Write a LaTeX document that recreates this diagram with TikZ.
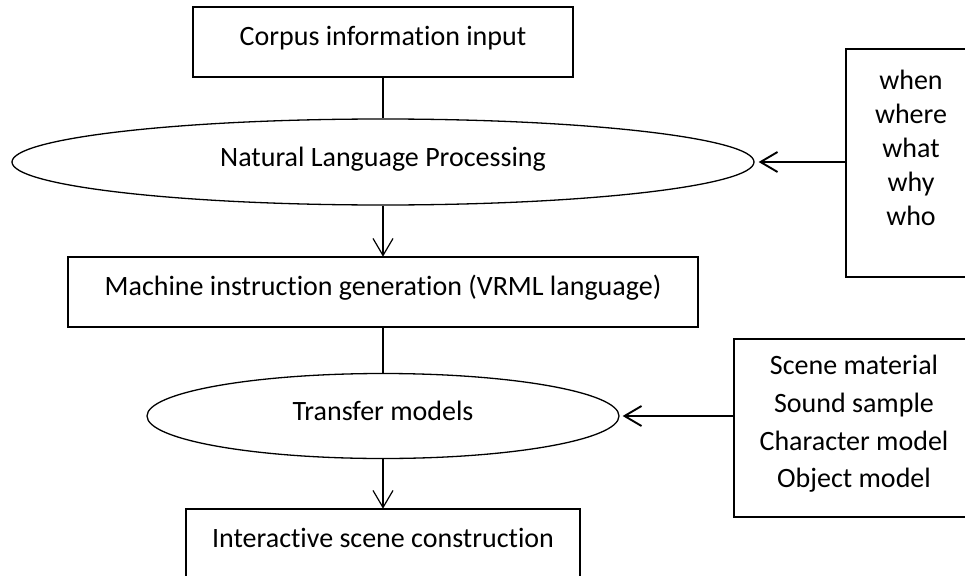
\documentclass[tikz,border=0pt]{standalone}
\usepackage{fontspec}
\setmainfont{Carlito}[Ligatures=NoCommon]
\usetikzlibrary{arrows.meta,shapes.geometric}
\begin{document}
\begin{tikzpicture}[x=1pt,y=-1pt,
  every node/.style={font=\fontsize{28}{34}\selectfont, inner sep=0pt, text=black},
  boxnode/.style={draw, line width=1.7pt, rectangle, text height=20pt, text depth=13pt},
  ellnode/.style={draw, line width=1.3pt, ellipse, text height=20pt, text depth=12pt},
  plainline/.style={line width=1.2pt},
  arrline/.style={line width=1.2pt, -{Straight Barb[length=17pt,width=20pt]}},
  sidearr/.style={line width=1.9pt, -{Straight Barb[length=17pt,width=20pt]}}
]
\useasboundingbox (0,0) rectangle (965,575);
\clip (0,0) rectangle (965,575);

\node[boxnode, minimum width=380pt, minimum height=70pt] (corpus) at (383,42) {Corpus information input};
\node[ellnode, minimum width=742pt, minimum height=86pt] (nlp) at (383,162) {Natural Language Processing};
\node[boxnode, minimum width=630pt, minimum height=70pt] (machine) at (383,292) {Machine instruction generation (VRML language)};
\node[ellnode, minimum width=472pt, minimum height=85pt] (transfer) at (383,416) {Transfer models};
\node[boxnode, minimum width=394pt, minimum height=70pt] (inter) at (383,544) {Interactive scene construction};

\node[draw, line width=1.7pt, rectangle, minimum width=130pt, minimum height=228pt] (wbox) at (911,163) {};
\node[align=center, font=\fontsize{28}{34}\selectfont] (wtext) at (911,148) {when\\where\\what\\why\\who};

\node[draw, line width=1.7pt, rectangle, minimum width=240pt, minimum height=178pt] (sbox) at (854,428) {};
\node[align=center, font=\fontsize{28}{37.7}\selectfont] (stext) at (854,424) {Scene material\\Sound sample\\Character model\\Object model};

\draw[plainline] (corpus.south) -- (nlp.north);
\draw[arrline, shorten >=-0.5pt] (nlp.south) -- (machine.north);
\draw[plainline] (machine.south) -- (transfer.north);
\draw[arrline, shorten >=-0.5pt] (transfer.south) -- (inter.north);
\draw[sidearr, shorten >=4pt] (wbox.west |- nlp.east) -- (nlp.east);
\draw[sidearr, shorten >=3pt] (sbox.west |- transfer.east) -- (transfer.east);
\end{tikzpicture}
\end{document}
